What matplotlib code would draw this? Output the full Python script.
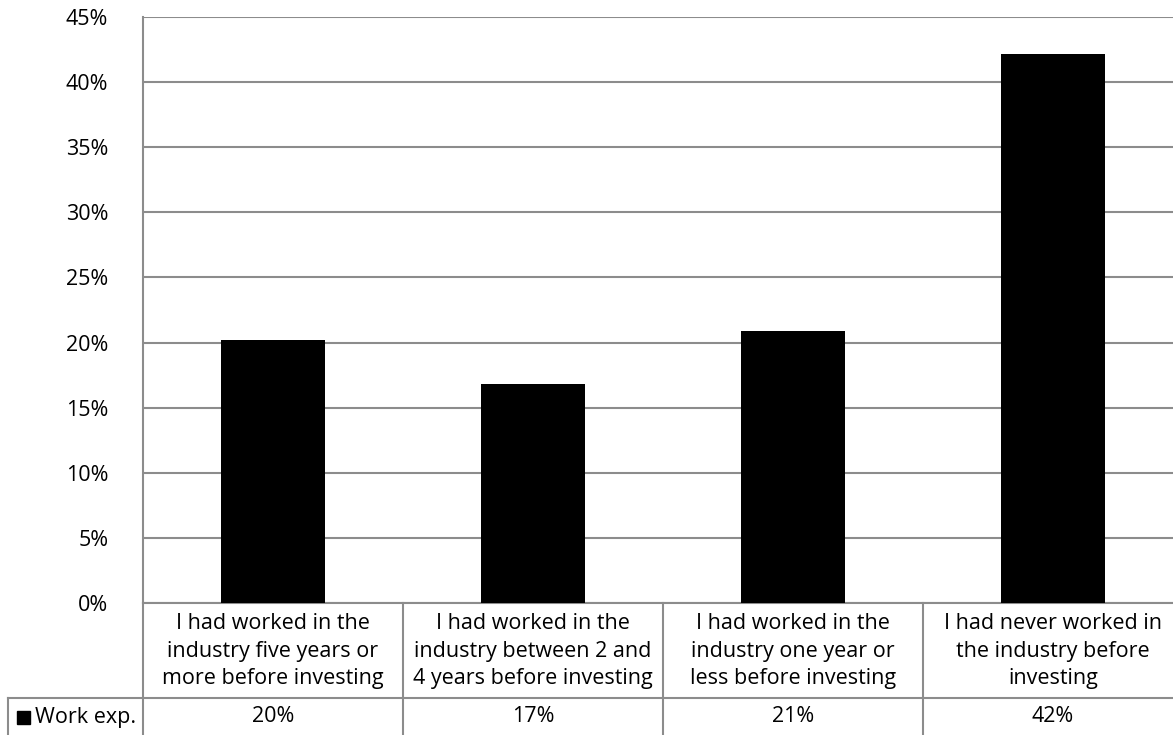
import numpy as np
import matplotlib.pyplot as plt
import matplotlib.transforms as mtrans
from matplotlib.patches import Rectangle

plt.rcParams['font.family'] = ['Open Sans', 'DejaVu Sans']

categories = ["I had worked in the\nindustry five years or\nmore before investing",
              "I had worked in the\nindustry between 2 and\n4 years before investing",
              "I had worked in the\nindustry one year or\nless before investing",
              "I had never worked in\nthe industry before\ninvesting"]
values = [20.2, 16.8, 20.85, 42.15]
value_labels = ["20%", "17%", "21%", "42%"]
series_name = "Work exp."
yticks = [0, 5, 10, 15, 20, 25, 30, 35, 40, 45]

W, H = 1173, 735
fig = plt.figure(figsize=(W / 100, H / 100), dpi=100)
# the chart is cropped on the right and bottom edges, like the source image
left, right, top, bottom = 143, 1183, 17, 603
ax = fig.add_axes([left / W, 1 - bottom / H, (right - left) / W, (bottom - top) / H])

grid_c = "#8c8c8c"
fs = 15.5
x = np.arange(len(values))
ax.bar(x, values, width=0.4, color="black", zorder=3)
ax.set_xlim(-0.5, len(values) - 0.5)
ax.set_ylim(0, 45)
ax.set_yticks(yticks)
ax.set_yticklabels([f"{t}%" for t in yticks], fontsize=fs)
ax.tick_params(axis="y", length=0, pad=25)
ax.set_xticks([])
ax.yaxis.grid(True, color=grid_c, linewidth=1.5, zorder=0)
for s in ["top", "right"]:
    ax.spines[s].set_visible(False)
for s in ["left", "bottom"]:
    ax.spines[s].set_color(grid_c)
    ax.spines[s].set_linewidth(1.5)

# data table below the plot
ph = bottom - top
row1 = -(698 - bottom) / ph
row2 = -(740 - bottom) / ph
col_w = (right - left) / len(values)
x_leftcol = -0.5 - (left - 8) / col_w
tr = mtrans.blended_transform_factory(ax.transData, ax.transAxes)
lw = 1.5
ax.plot([x_leftcol, len(values) - 0.5], [row1, row1], color=grid_c, lw=lw, transform=tr, clip_on=False)
ax.plot([x_leftcol, len(values) - 0.5], [row2, row2], color=grid_c, lw=lw, transform=tr, clip_on=False)
for b in range(len(values) + 1):
    ax.plot([b - 0.5, b - 0.5], [0, row2], color=grid_c, lw=lw, transform=tr, clip_on=False)
ax.plot([x_leftcol, x_leftcol], [row1, row2], color=grid_c, lw=lw, transform=tr, clip_on=False)

ytext1 = -(651 - bottom) / ph
ytext2 = -(717 - bottom) / ph
for i, (c, v) in enumerate(zip(categories, value_labels)):
    ax.text(i, ytext1, c, ha="center", va="center", fontsize=fs, transform=tr,
            linespacing=1.38)
    ax.text(i, ytext2, v, ha="center", va="center", fontsize=fs, transform=tr)

# legend key + series name
key_h = 13 / ph
ax.add_patch(Rectangle((x_leftcol + 9 / col_w, ytext2 - key_h / 2), 13 / col_w, key_h,
                       color="black", transform=tr, clip_on=False))
ax.text(x_leftcol + 27 / col_w, ytext2, series_name, ha="left", va="center",
        fontsize=fs, transform=tr)

fig.savefig("out.png", dpi=100)
